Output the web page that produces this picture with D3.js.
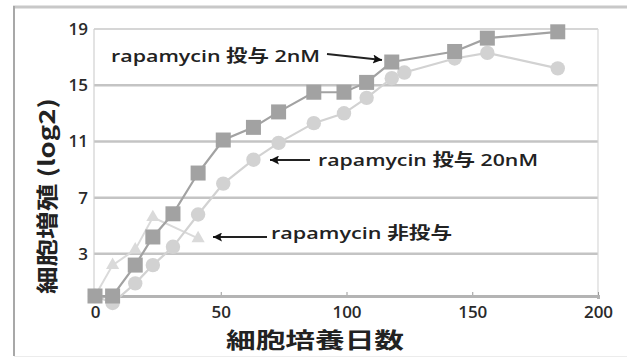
<!DOCTYPE html>
<html><head><meta charset="utf-8">
<script src="https://cdn.jsdelivr.net/npm/d3@7"></script>
<style>
html,body{margin:0;padding:0;background:#fff;}
svg{display:block;font-family:"Open Sans","Noto Sans CJK JP",sans-serif;}
</style></head>
<body>
<script>
// Data
const xTicks = [0, 50, 100, 150, 200];
const yTicks = [3, 7, 11, 15, 19];
const daysNo = [0, 7, 16, 23, 41];
const valsNo = [0, 2.2, 3.3, 5.6, 4.1];
const days2 = [0, 7, 16, 23, 31, 41, 51, 63, 73, 87, 99, 108, 118, 143, 156, 184];
const vals2 = [0, 0, 2.2, 4.2, 5.85, 8.75, 11.1, 12.0, 13.1, 14.5, 14.5, 15.2, 16.65, 17.4, 18.35, 18.8];
const days20 = [0, 7, 16, 23, 31, 41, 51, 63, 73, 87, 99, 108, 118, 123, 143, 156, 184];
const vals20 = [0, -0.5, 0.9, 2.2, 3.5, 5.8, 8.0, 9.7, 10.9, 12.3, 13.0, 14.1, 15.5, 15.9, 16.9, 17.3, 16.2];
const labels = ["rapamycin 投与 2nM", "rapamycin 投与 20nM", "rapamycin 非投与"];
const xTitle = "細胞培養日数";
const yTitle = "細胞増殖 (log2)";

const W = 627, H = 358;
const svg = d3.select("body").append("svg").attr("width", W).attr("height", H);

const x = d3.scaleLinear().domain([0, 200]).range([95, 598]);
const y = d3.scaleLinear().domain([0, 19]).range([296, 29]);

// outer frame
svg.append("line").attr("x1", 13).attr("x2", 627).attr("y1", 7).attr("y2", 7)
  .attr("stroke", "#c8c8c8").attr("stroke-width", 3);
svg.append("line").attr("x1", 14).attr("x2", 14).attr("y1", 6).attr("y2", 356)
  .attr("stroke", "#a8a8a8").attr("stroke-width", 2);
svg.append("line").attr("x1", 14).attr("x2", 627).attr("y1", 356.5).attr("y2", 356.5)
  .attr("stroke", "#ececec").attr("stroke-width", 1);

// gridlines
svg.append("g").selectAll("line").data(yTicks).join("line")
  .attr("x1", x(0) - 1).attr("x2", x(200)).attr("y1", d => y(d)).attr("y2", d => y(d))
  .attr("stroke", d => d === 19 ? "#d6d6d6" : "#c4c4c4")
  .attr("stroke-width", d => d === 19 ? 2 : 2.5);
// plot left and right borders
svg.append("line").attr("x1", x(0) - 1).attr("x2", x(0) - 1).attr("y1", y(19)).attr("y2", y(0))
  .attr("stroke", "#d0d0d0").attr("stroke-width", 1.2);
svg.append("line").attr("x1", x(200)).attr("x2", x(200)).attr("y1", y(19)).attr("y2", y(0))
  .attr("stroke", "#d8d8d8").attr("stroke-width", 1.2);

// x axis
const xAxis = d3.axisBottom(x).tickValues(xTicks).tickSize(3).tickPadding(7).tickFormat(d3.format("d"));
const gx = svg.append("g").attr("transform", `translate(0,${y(0)})`).call(xAxis);
gx.select(".domain").attr("stroke", "#b4b4b4").attr("stroke-width", 3);
gx.selectAll(".tick line").attr("stroke", "#999").attr("transform", "translate(0,-4)");
gx.selectAll(".tick text").attr("font-size", 17).attr("font-weight", 600).attr("fill", "#2a2a2a")
  .attr("font-family", "'Open Sans',sans-serif");

// y axis
const yAxis = d3.axisLeft(y).tickValues(yTicks).tickSize(0).tickPadding(7).tickFormat(d3.format("d"));
const gy = svg.append("g").attr("transform", `translate(${x(0)},0)`).call(yAxis);
gy.select(".domain").remove();
gy.selectAll(".tick text").attr("font-size", 17).attr("font-weight", 600).attr("fill", "#2a2a2a")
  .attr("font-family", "'Open Sans',sans-serif");

// series
const line = d3.line().x(d => x(d[0])).y(d => y(d[1]));
const sNo = daysNo.map((d, i) => [d, valsNo[i]]);
const s2 = days2.map((d, i) => [d, vals2[i]]);
const s20 = days20.map((d, i) => [d, vals20[i]]);

const cNo = "#dadada", c2 = "#a2a2a2", c20 = "#d2d2d2";

svg.append("path").datum(sNo).attr("d", line).attr("fill", "none").attr("stroke", cNo).attr("stroke-width", 2);
svg.append("g").selectAll("path").data(sNo).join("path")
  .attr("d", d3.symbol().type(d3.symbolTriangle).size(75))
  .attr("transform", d => `translate(${x(d[0])},${y(d[1])})`).attr("fill", cNo);

svg.append("path").datum(s20).attr("d", line).attr("fill", "none").attr("stroke", c20).attr("stroke-width", 2.2);
svg.append("path").datum(s2).attr("d", line).attr("fill", "none").attr("stroke", c2).attr("stroke-width", 2.2);

svg.append("g").selectAll("circle").data(s20).join("circle")
  .attr("cx", d => x(d[0])).attr("cy", d => y(d[1])).attr("r", 7.2).attr("fill", c20);
svg.append("g").selectAll("rect").data(s2).join("rect")
  .attr("x", d => x(d[0]) - 7.5).attr("y", d => y(d[1]) - 7.5).attr("width", 15).attr("height", 15)
  .attr("fill", c2);

// annotations
const defs = svg.append("defs");
defs.append("marker").attr("id", "ah").attr("viewBox", "0 0 10 10").attr("refX", 10).attr("refY", 5)
  .attr("markerWidth", 16).attr("markerHeight", 9).attr("markerUnits", "userSpaceOnUse").attr("orient", "auto")
  .append("path").attr("d", "M0,0 L10,5 L0,10 L2,5 Z").attr("fill", "#111");

const ann = [
  {t: labels[0], tx: 111, ty: 62, tw: 209, ax1: 327, ay1: 54, ax2: 382, ay2: 60},
  {t: labels[1], tx: 318, ty: 166, tw: 220, ax1: 310, ay1: 160, ax2: 270, ay2: 160},
  {t: labels[2], tx: 271, ty: 239, tw: 181, ax1: 267, ay1: 237, ax2: 213, ay2: 237}
];
ann.forEach(a => {
  svg.append("text").attr("x", a.tx).attr("y", a.ty).text(a.t)
    .attr("font-size", 16.5).attr("font-weight", 600).attr("fill", "#222")
    .attr("textLength", a.tw).attr("lengthAdjust", "spacingAndGlyphs");
  svg.append("line").attr("x1", a.ax1).attr("y1", a.ay1).attr("x2", a.ax2).attr("y2", a.ay2)
    .attr("stroke", "#222").attr("stroke-width", 1.8).attr("marker-end", "url(#ah)");
});

// axis titles
svg.append("text").attr("x", 226).attr("y", 348).text(xTitle)
  .attr("font-size", 21.5).attr("font-weight", 700).attr("fill", "#222")
  .attr("font-family", "'Noto Sans CJK JP',sans-serif")
  .attr("textLength", 178).attr("lengthAdjust", "spacingAndGlyphs");
svg.append("text").attr("transform", "translate(55,294) rotate(-90)").text(yTitle)
  .attr("font-size", 22).attr("font-weight", 700).attr("fill", "#222")
  .attr("font-family", "'Noto Sans CJK JP',sans-serif")
  .attr("textLength", 196).attr("lengthAdjust", "spacingAndGlyphs");
</script>
</body></html>
